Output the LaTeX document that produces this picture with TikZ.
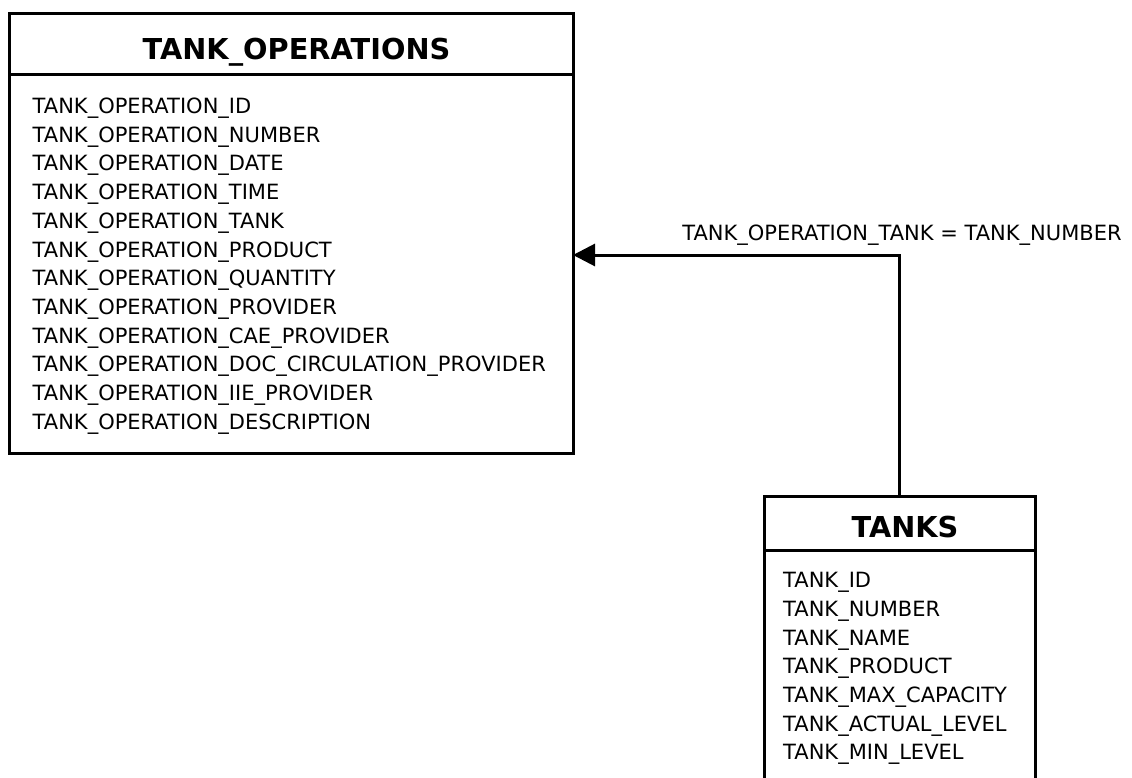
\documentclass[tikz,border=0pt]{standalone}
\usepackage{fontspec}
\setmainfont{DejaVu Sans}
\usetikzlibrary{arrows.meta}
\tikzset{
  tablebox/.style={draw,black,line width=3pt,outer sep=0pt,inner sep=0pt},
  tabletitle/.style={anchor=base,inner sep=0pt,font=\fontsize{28.8}{30}\selectfont\bfseries},
  tablefield/.style={anchor=base west,inner sep=0pt,font=\fontsize{21}{25}\selectfont},
  fklabel/.style={anchor=base,inner sep=0pt,font=\fontsize{21}{25}\selectfont},
  fk/.style={line width=3pt,-{Triangle[length=22pt,width=22pt]}},
}
\begin{document}
\begin{tikzpicture}[x=1pt,y=-1pt]
    \useasboundingbox (0,0) rectangle (1132,778);
    \clip (0,0) rectangle (1132,778);
    % TANK_OPERATIONS table
    \node[tablebox,minimum width=564pt,minimum height=439pt] (ops) at (291,233.5) {};
    \draw[line width=3pt] (ops.west |- 0,75) -- (ops.east |- 0,75);
    \node[tabletitle] (opstitle) at (296.5,60) {TANK\_OPERATIONS};
    \foreach \f [count=\i] in {ID,NUMBER,DATE,TIME,TANK,PRODUCT,QUANTITY,PROVIDER,CAE\_PROVIDER,DOC\_CIRCULATION\_PROVIDER,IIE\_PROVIDER,DESCRIPTION}
        \node[tablefield] (ops\i) at (32.5,{113.6+28.7*(\i-1)}) {TANK\_OPERATION\_\f};
    % TANKS table
    \node[tablebox,minimum width=271pt,minimum height=320pt] (tanks) at (899.5,656) {};
    \draw[line width=3pt] (tanks.west |- 0,550) -- (tanks.east |- 0,550);
    \node[tabletitle] (tankstitle) at (905,537.5) {TANKS};
    \foreach \f [count=\i] in {ID,NUMBER,NAME,PRODUCT,MAX\_CAPACITY,ACTUAL\_LEVEL,MIN\_LEVEL}
        \node[tablefield] (tanks\i) at (783,{587.6+28.7*(\i-1)}) {TANK\_\f};
    % relation
    \coordinate (joint) at (tanks.north |- 0,255);
    \draw[fk] (tanks.north) -- (joint) -- (ops.east |- joint);
    \node[fklabel] (fkname) at (902,240.6) {TANK\_OPERATION\_TANK = TANK\_NUMBER};
\end{tikzpicture}
\end{document}
